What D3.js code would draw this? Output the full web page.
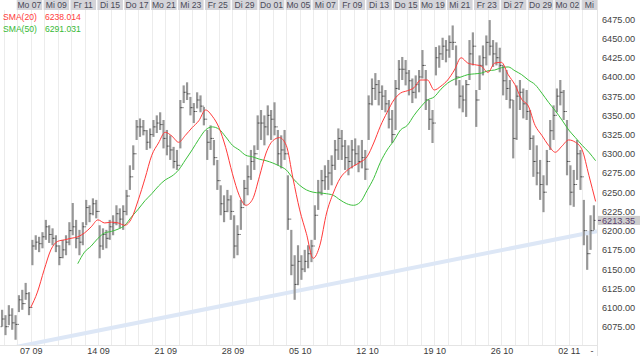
<!DOCTYPE html>
<html><head><meta charset="utf-8">
<script src="https://cdn.jsdelivr.net/npm/d3@7"></script>
<style>
body{margin:0;background:#fff}
svg{display:block}
text{font-family:"Liberation Sans",Arial,sans-serif}
</style></head>
<body><svg id="c" width="640" height="356"></svg>
<script>
// ---------- DATA ----------
const topLabels = ['Mo 07','Mi 09','Fr 11','Di 15','Do 17','Mo 21','Mi 23','Fr 25','Di 29','Do 01','Mo 05','Mi 07','Fr 09','Di 13','Do 15','Mo 19','Mi 21','Fr 23','Di 27','Do 29','Mo 02','Mi'];
const topLabelDays = [0,2,4,6,8,10,12,14,16,18,20,22,24,26,28,30,32,34,36,38,40,42];
const bottomLabels = ['07 09','14 09','21 09','28 09','05 10','12 10','19 10','26 10','02 11'];
const bottomLabelDays = [0,5,10,15,20,25,30,35,40];
const yTicks = [6075,6100,6125,6150,6175,6200,6225,6250,6275,6300,6325,6350,6375,6400,6425,6450,6475];

// intraday bars (trading-day index, 4 bars per day, first bar at day -2.125)
const barStart = -2.125, barStep = 0.25;
const barHigh = [6097,6090,6103,6099,6090, 6116,6123,6132,6120, 6188,6194,6192,6198, 6214,6207,6203,6194, 6181,6188,6194,6211, 6236,6214,6201,6211, 6240,6233,6242,6240, 6207,6203,6201,6214, 6220,6233,6229,6233, 6253,6285,6311,6344, 6346,6344,6331,6333, 6344,6350,6354,6344, 6331,6324,6309,6305, 6370,6389,6393,6374, 6366,6380,6376,6361, 6331,6337,6318,6292, 6259,6246,6253,6246, 6220,6207,6240,6266, 6285,6305,6311,6350, 6357,6350,6363,6357, 6367,6331,6324,6331, 6272,6201,6168,6181, 6168,6175,6181,6188, 6233,6266,6279,6285, 6292,6298,6318,6333, 6331,6318,6311,6318, 6320,6311,6318,6305, 6376,6398,6405,6396, 6389,6383,6370,6357, 6396,6422,6426,6422, 6409,6398,6402,6409, 6435,6409,6370,6357, 6439,6441,6451,6448, 6454,6467,6441,6396, 6389,6396,6448,6458, 6383,6428,6441,6454, 6474,6448,6445,6438, 6415,6409,6396,6370, 6389,6396,6385,6383, 6357,6324,6311,6292, 6272,6305,6344,6363, 6385,6396,6383,6344, 6285,6279,6318,6305, 6240,6194,6220,6233];
const barLow = [6075,6064,6077,6071,6058, 6094,6097,6110,6090, 6155,6175,6172,6177, 6188,6184,6181,6172, 6155,6164,6168,6181, 6194,6177,6168,6181, 6207,6211,6220,6216, 6164,6175,6177,6188, 6194,6207,6203,6201, 6220,6253,6279,6318, 6322,6324,6305,6307, 6322,6327,6331,6307, 6298,6292,6281,6279, 6307,6366,6370,6350, 6340,6359,6354,6337, 6292,6305,6285,6253, 6220,6211,6224,6214, 6164,6168,6201,6233, 6246,6266,6279,6305, 6318,6311,6324,6318, 6324,6285,6281,6292, 6201,6142,6110,6129, 6136,6146,6151,6159, 6188,6227,6246,6253, 6253,6259,6279,6292, 6292,6279,6272,6281, 6285,6276,6281,6266, 6318,6363,6370,6363, 6357,6354,6333,6314, 6331,6383,6396,6389, 6376,6366,6372,6380, 6398,6357,6331,6314, 6402,6412,6422,6419, 6425,6435,6389,6359, 6354,6348,6396,6415, 6335,6383,6402,6415, 6428,6413,6415,6406, 6376,6370,6359,6294, 6318,6357,6346,6344, 6305,6270,6259,6240, 6224,6259,6305,6318, 6354,6363,6344,6272, 6233,6231,6266,6253, 6181,6149,6175,6201];
const barClose = [6085,6075,6090,6080,6078, 6110,6105,6118,6100, 6180,6185,6183,6192, 6205,6195,6190,6180, 6165,6175,6185,6200, 6205,6190,6185,6205, 6230,6222,6235,6225, 6180,6195,6190,6205, 6210,6222,6215,6225, 6245,6270,6300,6335, 6335,6330,6315,6325, 6335,6340,6338,6320, 6310,6305,6290,6285, 6360,6380,6378,6360, 6355,6370,6362,6345, 6315,6320,6295,6265, 6235,6225,6240,6225, 6180,6195,6230,6255, 6270,6290,6300,6340, 6340,6335,6350,6345, 6335,6300,6305,6300, 6215,6155,6130,6160, 6150,6160,6170,6180, 6220,6250,6265,6270, 6275,6285,6305,6320, 6310,6295,6290,6305, 6300,6290,6295,6280, 6365,6385,6390,6380, 6375,6365,6345,6325, 6385,6410,6410,6405, 6395,6380,6390,6400, 6415,6370,6345,6340, 6425,6430,6440,6435, 6445,6445,6400,6375, 6370,6390,6430,6440, 6370,6415,6425,6445, 6440,6430,6425,6415, 6395,6385,6370,6320, 6375,6380,6365,6355, 6320,6290,6275,6260, 6250,6290,6330,6350, 6375,6380,6355,6290, 6250,6260,6300,6270, 6200,6170,6200,6213.35];

// moving averages, sampled every half trading day
const smaStep = 0.5;
const sma20Start = 0;
const sma20 = [6100,6120,6149,6175,6186,6188,6190,6192,6197,6205,6214,6210,6211,6210,6207,6216,6240,6268,6298,6314,6328,6323,6315,6324,6334,6343,6357,6349,6334,6308,6274,6246,6233,6241,6270,6301,6317,6321,6311,6268,6227,6196,6164,6181,6223,6249,6268,6278,6284,6289,6296,6314,6336,6354,6370,6379,6382,6386,6396,6396,6383,6388,6396,6409,6425,6418,6416,6414,6406,6418,6419,6403,6390,6371,6362,6337,6324,6311,6302,6310,6318,6315,6305,6272,6238];
const sma50Start = 3.5;
const sma50 = [6157,6172,6180,6190,6197,6199,6202,6207,6218,6228,6239,6248,6258,6266,6271,6279,6292,6305,6319,6331,6335,6332,6322,6311,6305,6298,6296,6293,6291,6288,6284,6279,6268,6259,6253,6250,6249,6248,6246,6240,6235,6233,6237,6252,6268,6289,6305,6317,6331,6337,6350,6361,6370,6374,6384,6392,6397,6400,6403,6404,6405,6408,6409,6412,6413,6408,6403,6396,6390,6379,6367,6356,6344,6331,6321,6311,6302,6291];
const legendNames = ['SMA(20)','SMA(50)'];
const legendValues = ['6238.014','6291.031'];
const lastPrice = 6213.35;
const trendDays = [-2.28, 42.1];
const trendValues = [6044.5, 6199.4];

// ---------- CHART ----------
const svg = d3.select('#c');
const plotLeft = 0, plotRight = 597, plotTop = 10, plotBottom = 345;
const x = d3.scaleLinear().domain([0, 40]).range([30.7, 568.7]);
const y = d3.scaleLinear().domain([6075, 6475]).range([326.7, 19.3]);

svg.append('defs').append('clipPath').attr('id','clip')
  .append('rect').attr('x',plotLeft).attr('y',0).attr('width',plotRight-plotLeft).attr('height',plotBottom);

// vertical day grid
svg.append('g').selectAll('line').data(d3.range(-2, 42)).join('line')
  .attr('x1', d => Math.round(x(d)) + 0.5).attr('x2', d => Math.round(x(d)) + 0.5)
  .attr('y1', plotTop).attr('y2', plotBottom)
  .attr('stroke', '#ececec').attr('stroke-width', 1);

// borders
svg.append('line').attr('x1',0).attr('x2',plotRight).attr('y1',plotBottom+0.5).attr('y2',plotBottom+0.5).attr('stroke','#e4e4e4');
svg.append('line').attr('x1',plotRight+0.5).attr('x2',plotRight+0.5).attr('y1',0).attr('y2',356).attr('stroke','#e4e4e4');

// top day labels
const topG = svg.append('g');
topG.selectAll('rect').data(topLabelDays).join('rect')
  .attr('x', d => x(d) - 14).attr('y', 0)
  .attr('width', d => Math.max(0, Math.min(25.5, plotRight - (x(d) - 14))))
  .attr('height', 10)
  .attr('fill', '#d4d4d9');
topG.selectAll('text').data(topLabelDays).join('text')
  .attr('x', d => Math.min(x(d) - 1.3, (x(d) - 14 + plotRight) / 2))
  .attr('y', 8.3).attr('text-anchor','middle')
  .attr('font-size', 8.6).attr('fill', '#4a4a58')
  .text((d,i) => topLabels[i]);

const plot = svg.append('g').attr('clip-path','url(#clip)');

// trend line
plot.append('line')
  .attr('x1', x(trendDays[0])).attr('y1', y(trendValues[0]))
  .attr('x2', x(trendDays[1])).attr('y2', y(trendValues[1]))
  .attr('stroke', '#dde7f6').attr('stroke-width', 4).attr('stroke-linecap','butt');

// bars
const bars = barHigh.map((h, i) => ({t: barStart + i*barStep, h, l: barLow[i], c: barClose[i], o: i ? barClose[i-1] : barLow[i]}));
const bg = plot.append('g');
bg.selectAll('line.hl').data(bars).join('line').attr('class','hl')
  .attr('x1', d => x(d.t)).attr('x2', d => x(d.t))
  .attr('y1', d => y(d.h)).attr('y2', d => y(d.l))
  .attr('stroke', '#979797').attr('stroke-width', 2.2);
bg.selectAll('line.cl').data(bars).join('line').attr('class','cl')
  .attr('x1', d => x(d.t)).attr('x2', d => x(d.t) + 1.6)
  .attr('y1', d => y(d.c)).attr('y2', d => y(d.c))
  .attr('stroke', '#4a4a4a').attr('stroke-width', 1);
bg.selectAll('line.op').data(bars).join('line').attr('class','op')
  .attr('x1', d => x(d.t) - 1.6).attr('x2', d => x(d.t))
  .attr('y1', d => y(d.o)).attr('y2', d => y(d.o))
  .attr('stroke', '#7a7a7a').attr('stroke-width', 1);

// SMA lines
const line = d3.line().x(d => x(d.t)).y(d => y(d.v)).curve(d3.curveMonotoneX);
plot.append('path').datum(sma50.map((v,i) => ({t: sma50Start + i*smaStep, v})))
  .attr('d', line).attr('fill','none').attr('stroke','#3cbf3c').attr('stroke-width',1);
plot.append('path').datum(sma20.map((v,i) => ({t: sma20Start + i*smaStep, v})))
  .attr('d', line).attr('fill','none').attr('stroke','#ff3a3a').attr('stroke-width',1);

// legend
const legColors = ['#ff3a3a','#35b935'];
legendNames.forEach((n,i) => {
  svg.append('text').attr('x',3).attr('y',19.5 + i*12).attr('font-size',8.6).attr('fill',legColors[i]).text(n);
  svg.append('text').attr('x',45).attr('y',19.5 + i*12).attr('font-size',8.6).attr('fill',legColors[i]).text(legendValues[i]);
});

// right axis
const ra = svg.append('g').attr('transform',`translate(${plotRight},0)`)
  .call(d3.axisRight(y).tickValues(yTicks).tickFormat(d => d.toFixed(2)).tickSize(0).tickPadding(5));
ra.select('.domain').remove();
ra.selectAll('text').attr('font-size',9.2).attr('fill','#444').attr('font-family','"Liberation Sans",Arial,sans-serif');

// last price marker
svg.append('rect').attr('x', plotRight+1).attr('y', y(lastPrice)-4.5).attr('width', 640-plotRight-1).attr('height', 9).attr('fill','#cdcdcd');
svg.append('line').attr('x1', plotRight+1).attr('x2', plotRight+4).attr('y1', y(lastPrice)).attr('y2', y(lastPrice)).attr('stroke','#5a3d6e');
svg.append('text').attr('x', plotRight+5).attr('y', y(lastPrice)).attr('dy','0.34em')
  .attr('font-size',9.2).attr('fill','#5a3d6e').text(lastPrice.toFixed(2));

// bottom axis
const ba = svg.append('g').attr('transform',`translate(0,${plotBottom})`)
  .call(d3.axisBottom(x).tickValues(bottomLabelDays).tickFormat((d,i) => bottomLabels[i]).tickSize(0).tickPadding(3));
ba.select('.domain').remove();
ba.selectAll('text').attr('font-size',9).attr('fill','#3a3a3a').attr('font-family','"Liberation Sans",Arial,sans-serif');
svg.append('text').attr('x', x(42) - 3.5).attr('y', 354).attr('text-anchor','middle').attr('font-size',9).attr('fill','#3a3a3a').text('-');
</script></body></html>
